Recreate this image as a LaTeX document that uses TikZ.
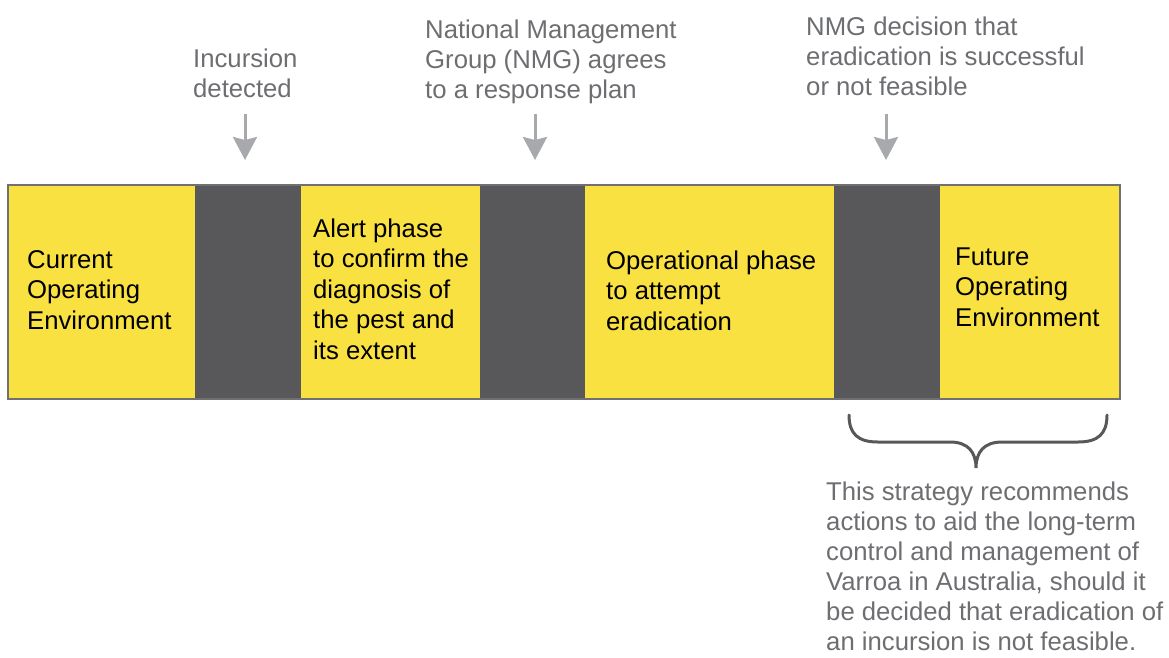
\documentclass[tikz,border=0pt]{standalone}
\usepackage{fontspec}
\setmainfont{Liberation Sans}
\usetikzlibrary{arrows.meta}
\definecolor{ybar}{HTML}{F9E142}
\definecolor{dbar}{HTML}{58585A}
\definecolor{edge}{HTML}{707072}
\definecolor{gtext}{HTML}{6D6E71}
\definecolor{garrow}{HTML}{A7A9AC}
\tikzset{
  seg/.style={inner sep=0pt, outer sep=0pt, minimum height=214pt, anchor=north west},
  yseg/.style={seg, fill=ybar},
  dseg/.style={seg, fill=dbar},
  bartext/.style={anchor=base west, inner sep=0pt, align=left, text=black,
    font=\fontsize{25.7}{30.5}\selectfont},
  note/.style={anchor=base west, inner sep=0pt, align=left, text=gtext,
    font=\fontsize{25.7}{30.0}\selectfont},
  downarrow/.style={draw=garrow, line width=3pt, -{Stealth[width=24pt,length=23pt,inset=3pt]}},
  bracestyle/.style={draw=dbar, line width=3pt, line cap=round}
}
\begin{document}
\begin{tikzpicture}[x=1pt,y=-1pt]
\useasboundingbox (0,0) rectangle (1169,657);
% bar segments
\node[yseg, minimum width=188pt] (s1) at (7,184) {};
\node[dseg, minimum width=106pt] (s2) at (195,184) {};
\node[yseg, minimum width=180pt] (s3) at (301,184) {};
\node[dseg, minimum width=105pt] (s4) at (480,184) {};
\node[yseg, minimum width=249pt] (s5) at (585,184) {};
\node[dseg, minimum width=106pt] (s6) at (834,184) {};
\node[yseg, minimum width=179pt] (s7) at (940,184) {};
\node[draw=edge, line width=2pt, inner sep=0pt, minimum width=1112pt, minimum height=214pt, anchor=north west] (bar) at (7,184) {};
% bar texts (anchored at the baseline of the last line)
\node[bartext] (t1) at (27,329) {Current\\Operating\\Environment};
\node[bartext] (t2) at (313,359) {Alert phase\\to confirm the\\diagnosis of\\the pest and\\its extent};
\node[bartext] (t3) at (606,330) {Operational phase\\to attempt\\eradication};
\node[bartext] (t4) at (955,326) {Future\\Operating\\Environment};
% top notes
\node[note] (n1) at (193,97) {Incursion\\detected};
\node[note] (n2) at (425,98) {National Management\\Group (NMG) agrees\\to a response plan};
\node[note] (n3) at (806,95) {NMG decision that\\eradication is successful\\or not feasible};
% arrows
\coordinate (a1s) at (245,114); \coordinate (a1e) at (245,160);
\coordinate (a2s) at (535,114); \coordinate (a2e) at (535,160);
\coordinate (a3s) at (886,114); \coordinate (a3e) at (886,160);
\draw[downarrow] (a1s) -- (a1e);
\draw[downarrow] (a2s) -- (a2e);
\draw[downarrow] (a3s) -- (a3e);
% brace
\coordinate (bl) at (849,415);
\coordinate (bt) at (976,468);
\coordinate (br) at (1107,415);
\draw[bracestyle] (bl) .. controls (849,434) and (858,442) .. (878,442)
  -- (950,442) .. controls (968,442) and (976,452) .. (bt)
  .. controls (976,452) and (984,442) .. (1002,442)
  -- (1078,442) .. controls (1098,442) and (1107,434) .. (br);
% bottom note
\node[note] (n4) at (826,650) {This strategy recommends\\actions to aid the long-term\\control and management of\\Varroa in Australia, should it\\be decided that eradication of\\an incursion is not feasible.};
\end{tikzpicture}
\end{document}
